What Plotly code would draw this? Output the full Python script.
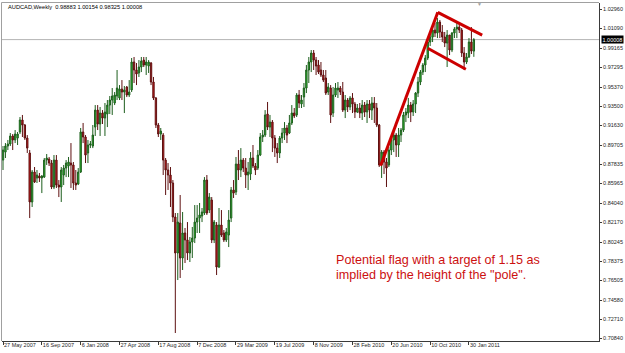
import pandas as pd
import plotly.graph_objects as go

# ---------------- data ----------------
symbol_title = "AUDCAD,Weekly  0.98883 1.00154 0.98325 1.00008"
first_week = "2007-05-27"

opens = [
    0.8825, 0.8903, 0.8962, 0.8982, 0.9060, 0.9021, 0.9040, 0.9099, 0.9216, 0.9167,
    0.9040, 0.8894, 0.8416, 0.8708, 0.8650, 0.8669, 0.8650, 0.8659, 0.8825, 0.8835,
    0.8796, 0.8562, 0.8825, 0.8581, 0.8562, 0.8679, 0.8747, 0.8767, 0.8796, 0.8777,
    0.8601, 0.8591, 0.8708, 0.9099, 0.9050, 0.8894, 0.8972, 0.8962, 0.9147, 0.9313,
    0.9177, 0.9284, 0.9235, 0.9274, 0.9362, 0.9411, 0.9382, 0.9450, 0.9431, 0.9518,
    0.9489, 0.9538, 0.9460, 0.9509, 0.9782, 0.9704, 0.9675, 0.9733, 0.9801, 0.9753,
    0.9743, 0.9772, 0.9587, 0.9431, 0.9167, 0.9079, 0.9069, 0.8825, 0.8728, 0.8679,
    0.8601, 0.8269, 0.7918, 0.8211, 0.7869, 0.8113, 0.8045, 0.7918, 0.8025, 0.8064,
    0.8220, 0.8259, 0.8279, 0.8308, 0.8630, 0.8337, 0.8435, 0.8045, 0.8191, 0.7781,
    0.8191, 0.8113, 0.8045, 0.8093, 0.8259, 0.8533, 0.8513, 0.8786, 0.8728, 0.8825,
    0.8747, 0.8679, 0.8689, 0.8845, 0.8767, 0.8747, 0.8874, 0.9050, 0.9069, 0.9274,
    0.9147, 0.9196, 0.9040, 0.8942, 0.8894, 0.9040, 0.9089, 0.9138, 0.9089, 0.9187,
    0.9284, 0.9265, 0.9460, 0.9372, 0.9440, 0.9528, 0.9704, 0.9782, 0.9870, 0.9801,
    0.9753, 0.9704, 0.9655, 0.9626, 0.9489, 0.9528, 0.9284, 0.9460, 0.9509, 0.9528,
    0.9489, 0.9313, 0.9411, 0.9343, 0.9431, 0.9372, 0.9294, 0.9333, 0.9284, 0.9362,
    0.9294, 0.9372, 0.9313, 0.9382, 0.9333, 0.9167, 0.8777, 0.8903, 0.8806, 0.8777,
    0.8923, 0.9021, 0.9069, 0.8972, 0.9069, 0.9118, 0.9265, 0.9284, 0.9362, 0.9294,
    0.9372, 0.9479, 0.9587, 0.9684, 0.9753, 0.9821, 0.9977, 1.0026, 1.0094, 1.0065,
    1.0172, 1.0075, 1.0026, 0.9967, 1.0045, 0.9899, 1.0065, 1.0104, 1.0123, 1.0094,
    0.9870, 0.9782, 0.9831, 0.9977, 0.98883,
]

highs = [
    0.8962, 0.8991, 0.9021, 0.9089, 0.9079, 0.9118, 0.9099, 0.9245, 0.9265, 0.9177,
    0.9069, 0.8923, 0.8728, 0.8757, 0.8728, 0.8699, 0.8679, 0.8845, 0.8884, 0.8855,
    0.8825, 0.8874, 0.8874, 0.8630, 0.8757, 0.8777, 0.8825, 0.8855, 0.8991, 0.8806,
    0.8728, 0.8747, 0.9138, 0.9187, 0.9069, 0.9021, 0.9011, 0.9167, 0.9362, 0.9362,
    0.9343, 0.9313, 0.9382, 0.9411, 0.9450, 0.9528, 0.9489, 0.9704, 0.9557, 0.9606,
    0.9548, 0.9548, 0.9606, 0.9821, 0.9831, 0.9772, 0.9801, 0.9831, 0.9831, 0.9831,
    0.9801, 0.9782, 0.9636, 0.9440, 0.9187, 0.9138, 0.9089, 0.8845, 0.8796, 0.8757,
    0.8630, 0.8308, 0.8308, 0.8484, 0.8318, 0.8162, 0.8220, 0.8074, 0.8172, 0.8386,
    0.8386, 0.8406, 0.8357, 0.8659, 0.8679, 0.8503, 0.8464, 0.8240, 0.8220, 0.8357,
    0.8337, 0.8142, 0.8162, 0.8337, 0.8562, 0.8630, 0.8855, 0.8923, 0.8942, 0.8845,
    0.8845, 0.8806, 0.8903, 0.8972, 0.8796, 0.8923, 0.9089, 0.9118, 0.9313, 0.9392,
    0.9265, 0.9216, 0.9069, 0.8991, 0.9060, 0.9138, 0.9196, 0.9167, 0.9265, 0.9362,
    0.9333, 0.9479, 0.9509, 0.9460, 0.9577, 0.9753, 0.9831, 0.9899, 0.9899, 0.9831,
    0.9801, 0.9782, 0.9704, 0.9704, 0.9577, 0.9557, 0.9538, 0.9577, 0.9587, 0.9548,
    0.9587, 0.9460, 0.9431, 0.9450, 0.9479, 0.9392, 0.9372, 0.9382, 0.9411, 0.9392,
    0.9411, 0.9411, 0.9440, 0.9440, 0.9382, 0.9177, 0.8923, 0.8923, 0.8845, 0.8952,
    0.9040, 0.9099, 0.9089, 0.9138, 0.9138, 0.9294, 0.9333, 0.9431, 0.9392, 0.9411,
    0.9489, 0.9636, 0.9704, 0.9772, 0.9850, 1.0016, 1.0065, 1.0123, 1.0162, 1.0211,
    1.0192, 1.0143, 1.0075, 1.0094, 1.0045, 1.0075, 1.0123, 1.0172, 1.0172, 1.0114,
    0.9928, 0.9870, 1.0016, 1.0123, 1.00154,
]

lows = [
    0.8728, 0.8845, 0.8923, 0.8962, 0.8923, 0.8991, 0.8972, 0.9079, 0.9050, 0.9021,
    0.8894, 0.8259, 0.8367, 0.8601, 0.8601, 0.8611, 0.8503, 0.8650, 0.8777, 0.8767,
    0.8542, 0.8542, 0.8552, 0.8464, 0.8416, 0.8581, 0.8659, 0.8659, 0.8552, 0.8533,
    0.8533, 0.8581, 0.8699, 0.8991, 0.8796, 0.8796, 0.8942, 0.8942, 0.9060, 0.9118,
    0.9060, 0.9177, 0.9060, 0.9147, 0.9274, 0.9265, 0.9362, 0.9411, 0.9411, 0.9411,
    0.9284, 0.9440, 0.9440, 0.9489, 0.9577, 0.9557, 0.9636, 0.9684, 0.9733, 0.9655,
    0.9675, 0.9557, 0.9411, 0.9138, 0.9050, 0.9021, 0.8679, 0.8484, 0.8533, 0.8367,
    0.8220, 0.7137, 0.7654, 0.7674, 0.7752, 0.7820, 0.7849, 0.7830, 0.7869, 0.8015,
    0.8113, 0.8113, 0.8220, 0.8289, 0.8289, 0.8308, 0.8015, 0.8015, 0.7703, 0.7771,
    0.8074, 0.8025, 0.8025, 0.7976, 0.8220, 0.8455, 0.8484, 0.8630, 0.8659, 0.8708,
    0.8552, 0.8533, 0.8630, 0.8747, 0.8679, 0.8728, 0.8864, 0.9001, 0.9050, 0.9118,
    0.9050, 0.8903, 0.8855, 0.8796, 0.8845, 0.8991, 0.9021, 0.8991, 0.9079, 0.9167,
    0.9235, 0.9245, 0.9333, 0.9333, 0.9343, 0.9479, 0.9577, 0.9684, 0.9704, 0.9655,
    0.9665, 0.9636, 0.9587, 0.9460, 0.9460, 0.9187, 0.9245, 0.9440, 0.9431, 0.9460,
    0.9294, 0.9235, 0.9294, 0.9313, 0.9284, 0.9235, 0.9284, 0.9235, 0.9216, 0.9245,
    0.9187, 0.9235, 0.9216, 0.9187, 0.9147, 0.8757, 0.8650, 0.8689, 0.8562, 0.8757,
    0.8874, 0.8903, 0.8855, 0.8855, 0.9001, 0.9099, 0.9196, 0.9235, 0.9196, 0.9255,
    0.9284, 0.9440, 0.9557, 0.9655, 0.9684, 0.9801, 0.9938, 0.9977, 1.0026, 1.0016,
    1.0016, 0.9977, 0.9928, 0.9733, 0.9850, 0.9879, 1.0016, 1.0016, 1.0065, 0.9831,
    0.9704, 0.9762, 0.9821, 0.9860, 0.98325,
]

closes = [
    0.8923, 0.8962, 0.8982, 0.9060, 0.9021, 0.9079, 0.9079, 0.9216, 0.9167, 0.9040,
    0.8942, 0.8416, 0.8708, 0.8611, 0.8679, 0.8650, 0.8669, 0.8825, 0.8845, 0.8796,
    0.8562, 0.8825, 0.8581, 0.8562, 0.8728, 0.8747, 0.8796, 0.8806, 0.8777, 0.8601,
    0.8581, 0.8708, 0.9099, 0.9050, 0.8874, 0.8972, 0.8982, 0.9069, 0.9313, 0.9177,
    0.9284, 0.9235, 0.9294, 0.9362, 0.9411, 0.9450, 0.9460, 0.9528, 0.9518, 0.9489,
    0.9509, 0.9460, 0.9489, 0.9782, 0.9704, 0.9665, 0.9733, 0.9792, 0.9753, 0.9782,
    0.9782, 0.9587, 0.9431, 0.9167, 0.9079, 0.9108, 0.8825, 0.8728, 0.8679, 0.8601,
    0.8269, 0.7918, 0.8220, 0.7869, 0.8113, 0.8045, 0.7918, 0.8025, 0.8064, 0.8220,
    0.8259, 0.8289, 0.8318, 0.8630, 0.8308, 0.8464, 0.8045, 0.8220, 0.7781, 0.8191,
    0.8093, 0.8045, 0.8123, 0.8240, 0.8533, 0.8503, 0.8786, 0.8728, 0.8825, 0.8747,
    0.8679, 0.8708, 0.8845, 0.8767, 0.8728, 0.8874, 0.9050, 0.9069, 0.9265, 0.9147,
    0.9196, 0.9040, 0.8942, 0.8894, 0.9040, 0.9089, 0.9138, 0.9069, 0.9187, 0.9284,
    0.9255, 0.9460, 0.9382, 0.9411, 0.9528, 0.9704, 0.9782, 0.9870, 0.9801, 0.9743,
    0.9684, 0.9655, 0.9606, 0.9479, 0.9538, 0.9265, 0.9460, 0.9528, 0.9528, 0.9489,
    0.9313, 0.9411, 0.9343, 0.9431, 0.9372, 0.9294, 0.9333, 0.9284, 0.9362, 0.9294,
    0.9372, 0.9313, 0.9382, 0.9333, 0.9167, 0.8777, 0.8903, 0.8806, 0.8747, 0.8923,
    0.9021, 0.9069, 0.8972, 0.9069, 0.9118, 0.9265, 0.9294, 0.9362, 0.9294, 0.9372,
    0.9479, 0.9587, 0.9684, 0.9753, 0.9821, 0.9977, 1.0026, 1.0094, 1.0065, 1.0172,
    1.0075, 1.0026, 0.9967, 1.0045, 0.9899, 1.0065, 1.0104, 1.0123, 1.0094, 0.9870,
    0.9782, 0.9831, 0.9977, 0.9889, 1.00008,
]

x_tick_dates = ["2007-05-27", "2007-09-16", "2008-01-06", "2008-04-27", "2008-08-17",
                "2008-12-07", "2009-03-29", "2009-07-19", "2009-11-08", "2010-02-28",
                "2010-06-20", "2010-10-10", "2011-01-30"]
x_tick_labels = ["27 May 2007", "16 Sep 2007", "6 Jan 2008", "27 Apr 2008", "17 Aug 2008",
                 "7 Dec 2008", "29 Mar 2009", "19 Jul 2009", "8 Nov 2009", "28 Feb 2010",
                 "20 Jun 2010", "10 Oct 2010", "30 Jan 2011"]

y_tick_values = [1.02960, 1.01090, 0.99165, 0.97295, 0.95370, 0.93500, 0.91630, 0.89705,
                 0.87835, 0.85965, 0.84040, 0.82170, 0.80245, 0.78375, 0.76505, 0.74580,
                 0.72710, 0.70840]
y_tick_labels = ["1.02960", "1.01090", "0.99165", "0.97295", "0.95370", "0.93500", "0.91630",
                 "0.89705", "0.87835", "0.85965", "0.84040", "0.82170", "0.80245", "0.78375",
                 "0.76505", "0.74580", "0.72710", "0.70840"]

last_price = 1.00008
last_price_label = "1.00008"

# drawn trend lines (date, price)
pole_x = ["2010-05-20", "2010-11-01"]
pole_y = [0.8770, 1.0267]
flag_top_x = ["2010-11-01", "2011-03-09"]
flag_top_y = [1.0267, 1.0045]
flag_bottom_x = ["2010-10-03", "2011-01-21"]
flag_bottom_y = [0.9916, 0.9711]

note_lines = ["Potential flag with a target of 1.15 as",
              'implied by the height of the "pole".']

# ---------------- figure ----------------
W, H = 625, 353
L, R, T, B = 2, 599, 3, 341          # plot area in pixels
FONT = "Liberation Sans, Arial, sans-serif"


def px(xp):
    return (xp - L) / (R - L)


def py(yp):
    return (B - yp) / (B - T)


weeks = pd.date_range(first_week, periods=len(closes), freq="7D")
start = pd.Timestamp(first_week)
x_range = [start - pd.Timedelta(days=2.9), start + pd.Timedelta(days=1719)]
y_range = [0.7059, 1.0358]

fig = go.Figure()
fig.add_trace(go.Candlestick(
    x=weeks, open=opens, high=highs, low=lows, close=closes,
    increasing=dict(line=dict(color="#1d5e1d", width=1), fillcolor="#2cc42c"),
    decreasing=dict(line=dict(color="#5e1010", width=1), fillcolor="#d01a1a"),
    whiskerwidth=0, showlegend=False, hoverinfo="skip",
))

line_red = dict(color="#cc0000", width=3)
shapes = [
    dict(type="line", xref="paper", yref="y", x0=0, x1=1, y0=last_price, y1=last_price,
         line=dict(color="#b4b4b4", width=1), layer="below"),
    dict(type="line", xref="paper", yref="paper", x0=px(1.5), x1=1, y0=py(2.5), y1=py(2.5),
         line=dict(color="#a0a0a0", width=1)),
    dict(type="line", xref="paper", yref="paper", x0=px(1.5), x1=px(1.5), y0=0, y1=py(2.5),
         line=dict(color="#a0a0a0", width=1)),
    dict(type="line", xref="x", yref="y", x0=pole_x[0], x1=pole_x[1], y0=pole_y[0], y1=pole_y[1],
         line=line_red),
    dict(type="line", xref="x", yref="y", x0=flag_top_x[0], x1=flag_top_x[1],
         y0=flag_top_y[0], y1=flag_top_y[1], line=line_red),
    dict(type="line", xref="x", yref="y", x0=flag_bottom_x[0], x1=flag_bottom_x[1],
         y0=flag_bottom_y[0], y1=flag_bottom_y[1], line=line_red),
]

annotations = [
    dict(text=symbol_title, xref="paper", yref="paper", x=px(6), y=py(7),
         xanchor="left", yanchor="middle", showarrow=False,
         font=dict(family=FONT, size=5.7, color="#000000")),
    dict(text=last_price_label, xref="paper", yref="y", x=1, y=last_price,
         xanchor="left", yanchor="middle", xshift=2, showarrow=False,
         bgcolor="#000000", borderpad=0.5,
         font=dict(family=FONT, size=5.5, color="#ffffff")),
    dict(text="\u25BC", xref="paper", yref="paper", x=px(479), y=py(4.5),
         xanchor="center", yanchor="middle", showarrow=False,
         font=dict(family=FONT, size=5, color="#a0a0a0")),
    dict(text=note_lines[0], xref="paper", yref="paper", x=px(333.5), y=py(260),
         xanchor="left", yanchor="middle", showarrow=False,
         font=dict(family=FONT, size=12.6, color="#cc1010")),
    dict(text=note_lines[1], xref="paper", yref="paper", x=px(333.5), y=py(275),
         xanchor="left", yanchor="middle", showarrow=False,
         font=dict(family=FONT, size=12.6, color="#cc1010")),
]

fig.update_layout(
    width=W, height=H,
    margin=dict(l=L, r=W - R, t=T, b=H - B, pad=0),
    paper_bgcolor="#ffffff", plot_bgcolor="#ffffff",
    showlegend=False, boxgap=0.2,
    shapes=shapes, annotations=annotations,
    font=dict(family=FONT, size=6, color="#1e1e1e"),
    xaxis=dict(
        type="date", range=x_range, rangeslider=dict(visible=False),
        showgrid=False, zeroline=False, automargin=False,
        showline=True, linecolor="#3a3a3a", linewidth=1,
        ticks="outside", ticklen=3, tickcolor="#3a3a3a", tickwidth=1,
        tickvals=x_tick_dates, ticktext=x_tick_labels, tickangle=0,
        ticklabelposition="outside right", ticklabelstandoff=-2,
        tickfont=dict(family=FONT, size=5.5, color="#1e1e1e"),
    ),
    yaxis=dict(
        side="right", range=y_range,
        showgrid=False, zeroline=False, automargin=False,
        showline=True, linecolor="#3a3a3a", linewidth=1,
        ticks="outside", ticklen=2, tickcolor="#3a3a3a", tickwidth=1,
        tickvals=y_tick_values, ticktext=y_tick_labels,
        tickfont=dict(family=FONT, size=5.5, color="#1e1e1e"),
    ),
)

fig.write_html("out.html", config={"displayModeBar": False})
